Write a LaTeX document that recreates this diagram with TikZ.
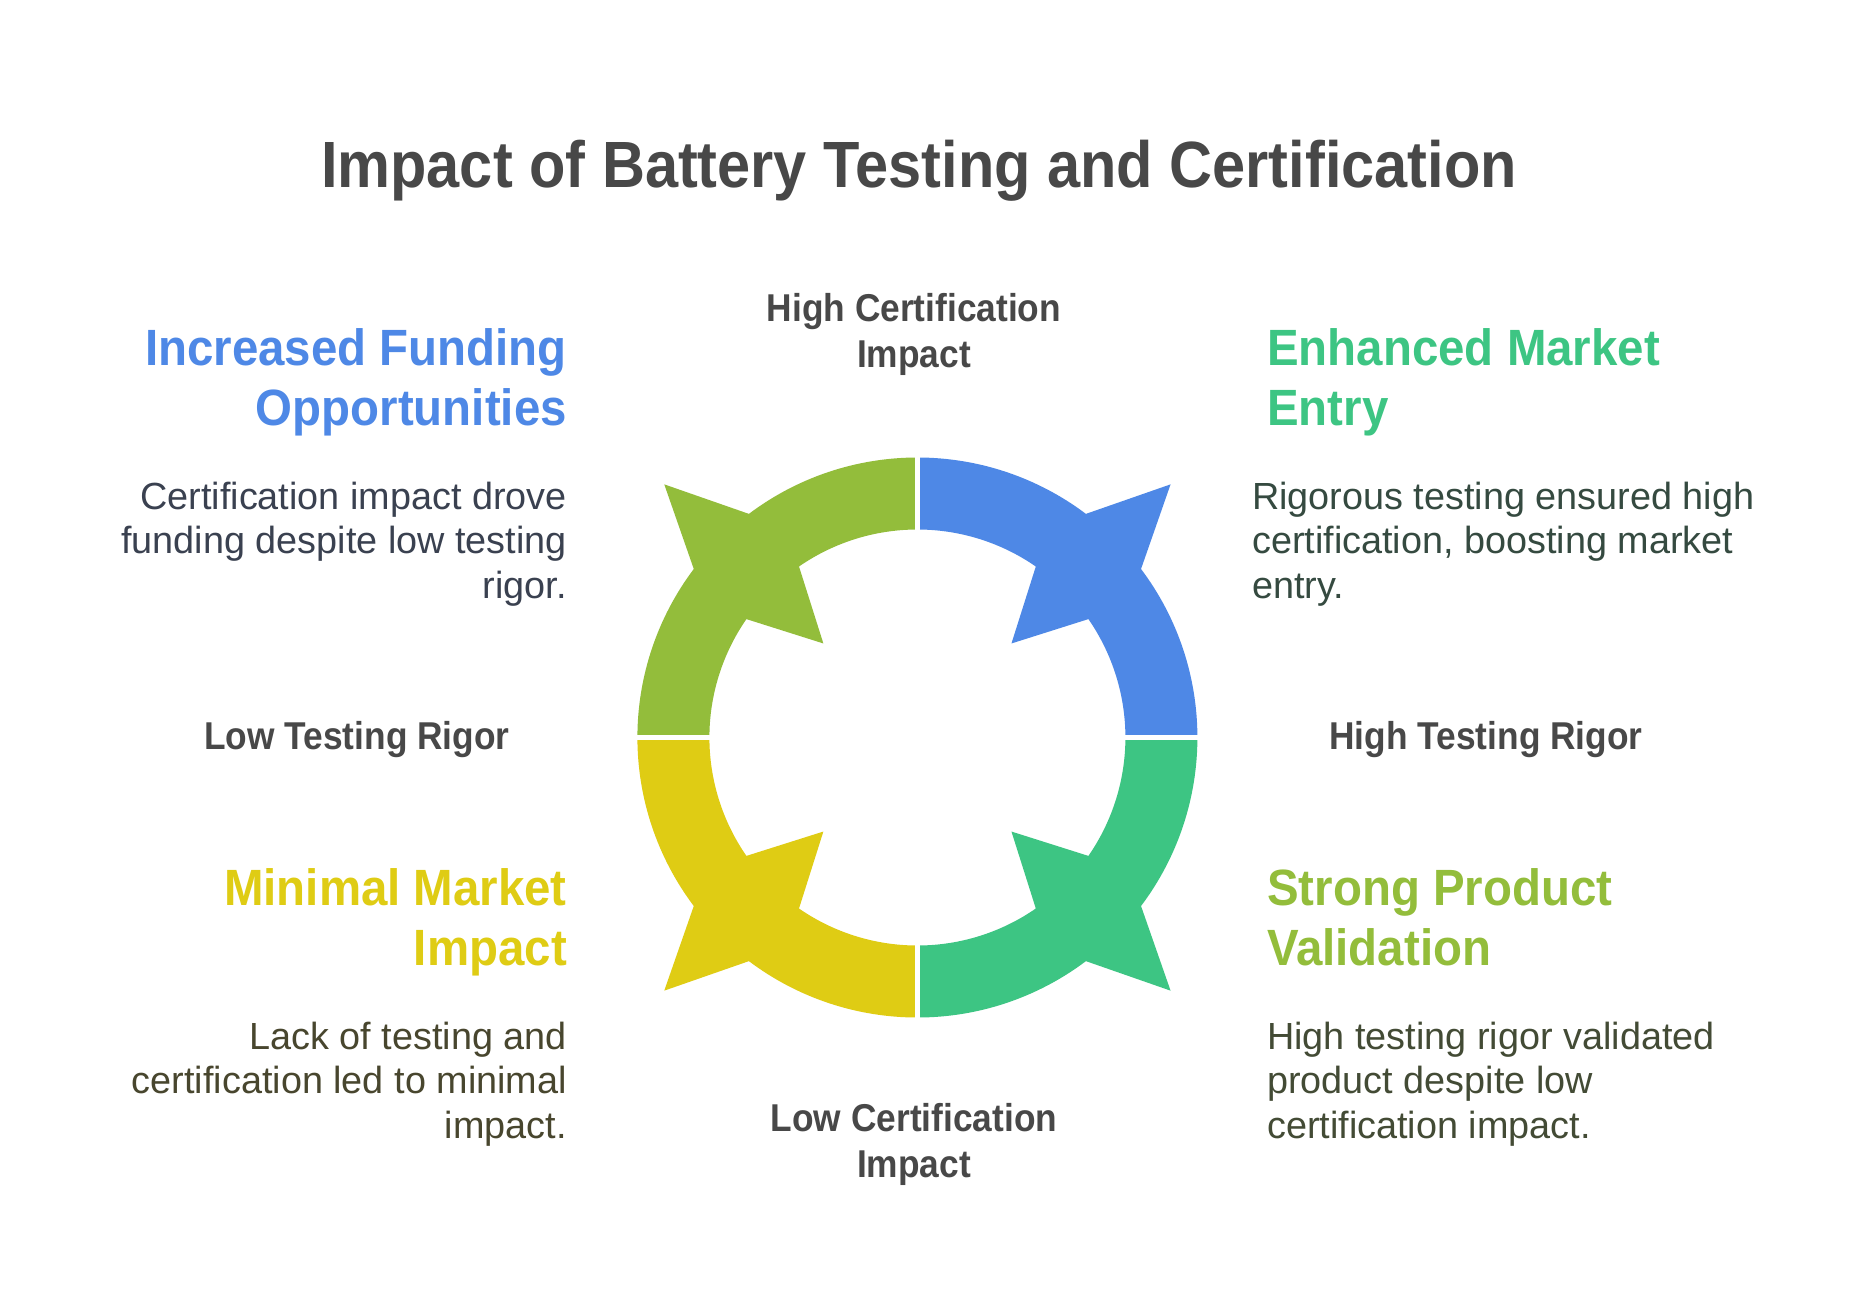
\documentclass[tikz,border=0pt]{standalone}
\usepackage{fontspec}
\setmainfont{Liberation Sans}
\newfontfamily\hfont{Liberation Sans}[FakeStretch=0.91]
\newfontfamily\headfont{Liberation Sans}[FakeStretch=0.93]
\definecolor{cblue}{HTML}{4E88E6}
\definecolor{cgreen}{HTML}{3DC583}
\definecolor{colive}{HTML}{93BD3B}
\definecolor{cyellow}{HTML}{DFCC14}
\definecolor{ctitle}{HTML}{484848}
\definecolor{tbA}{HTML}{3A4150}
\definecolor{tbB}{HTML}{354A40}
\definecolor{tbC}{HTML}{48462E}
\definecolor{tbD}{HTML}{434B35}
\newcommand\ringquad[2]{%
\fill[#2] ({#1}:280pt) arc[start angle={#1}, end angle={#1+37}, radius=280pt]
 -- ({#1+45}:358pt) -- ({#1+53}:280pt)
 arc[start angle={#1+53}, end angle={#1+90}, radius=280pt]
 -- ({#1+90}:208pt)
 arc[start angle={#1+90}, end angle={#1+55.3}, radius=208pt]
 -- ({#1+45}:133pt) -- ({#1+34.7}:208pt)
 arc[start angle={#1+34.7}, end angle={#1}, radius=208pt] -- cycle;}
\tikzset{
  titlestyle/.style={font=\hfont\bfseries\fontsize{65.4}{78}\selectfont, text=ctitle, inner sep=0pt},
  axisstyle/.style={font=\hfont\bfseries\fontsize{38.8}{45.5}\selectfont, text=ctitle, inner sep=0pt, align=center},
  headstyle/.style={font=\headfont\bfseries\fontsize{51}{60}\selectfont, inner sep=0pt},
  bodystyle/.style={font=\fontsize{37.8}{44.5}\selectfont, inner sep=0pt},
}
\begin{document}
\begin{tikzpicture}[x=1pt,y=-1pt]
\useasboundingbox[fill=white] (0,0) rectangle (1851,1295);
% ring
\begin{scope}[shift={(917.4,737.5)}]
  \ringquad{0}{cblue}
  \ringquad{90}{colive}
  \ringquad{180}{cyellow}
  \ringquad{270}{cgreen}
  \draw[white, line width=5pt] (-300pt,0pt) -- (300pt,0pt);
  \draw[white, line width=5pt] (0pt,-300pt) -- (0pt,300pt);
\end{scope}
% title
\node[titlestyle, anchor=base] (title) at (919,187) {Impact of Battery Testing and Certification};
% axis labels (base anchor = last line)
\node[axisstyle, anchor=base] (hc) at (914,367) {High Certification\\Impact};
\node[axisstyle, anchor=base] (lc) at (914,1177) {Low Certification\\Impact};
\node[axisstyle, anchor=base] (lt) at (357,749) {Low Testing Rigor};
\node[axisstyle, anchor=base] (ht) at (1486,749) {High Testing Rigor};
% top-left
\node[headstyle, text=cblue, anchor=base east, align=right] (h1) at (567,425) {Increased Funding\\Opportunities};
\node[bodystyle, text=tbA, anchor=base east, align=right] (b1) at (567,598) {Certification impact drove\\funding despite low testing\\rigor.};
% top-right
\node[headstyle, text=cgreen, anchor=base west, align=left] (h2) at (1267,425) {Enhanced Market\\Entry};
\node[bodystyle, text=tbB, anchor=base west, align=left] (b2) at (1252,598) {Rigorous testing ensured high\\certification, boosting market\\entry.};
% bottom-left
\node[headstyle, text=cyellow, anchor=base east, align=right] (h3) at (567,965) {Minimal Market\\Impact};
\node[bodystyle, text=tbC, anchor=base east, align=right] (b3) at (567,1138) {Lack of testing and\\certification led to minimal\\impact.};
% bottom-right
\node[headstyle, text=colive, anchor=base west, align=left] (h4) at (1267,965) {Strong Product\\Validation};
\node[bodystyle, text=tbD, anchor=base west, align=left] (b4) at (1267,1138) {High testing rigor validated\\product despite low\\certification impact.};
\end{tikzpicture}
\end{document}
